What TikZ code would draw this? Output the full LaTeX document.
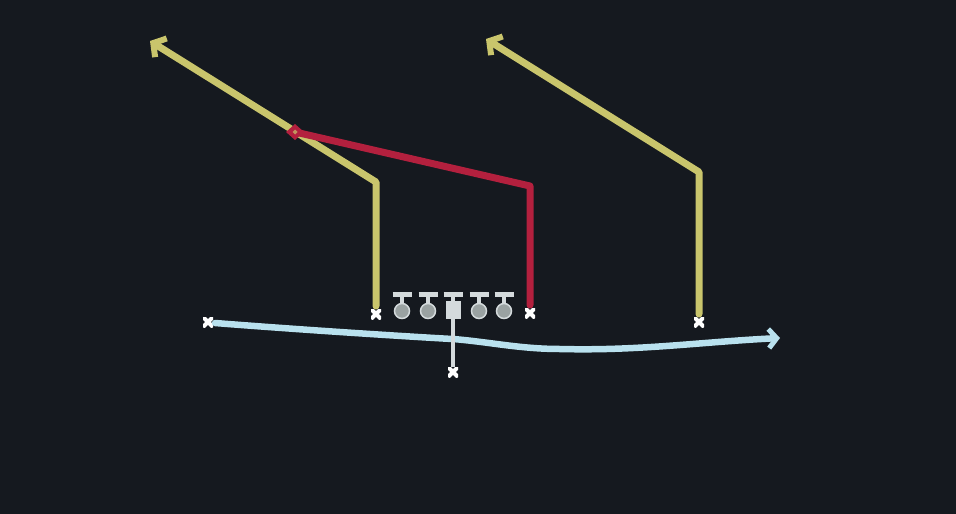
\documentclass[tikz,border=0pt]{standalone}
\usetikzlibrary{arrows.meta}
\definecolor{bg}{HTML}{15191F}
\definecolor{yel}{HTML}{C9C56C}
\definecolor{redr}{HTML}{B3203E}
\definecolor{lblue}{HTML}{B9E1EE}
\definecolor{plr}{HTML}{D4DADC}
\definecolor{plrgray}{HTML}{9AA2A2}
\tikzset{
  route/.style={line width=7pt, line join=round, line cap=round},
  yroute/.style={route, draw=yel, -{Straight Barb[length=9pt,width=22pt,line width=6pt]}},
  rroute/.style={route, draw=redr},
  broute/.style={route, line width=6.5pt, draw=lblue, -{Straight Barb[length=8pt,width=19pt,line width=5pt]}},
  xmark/.style={inner sep=0pt, minimum size=10pt, path picture={
    \draw[white, line width=4pt] (path picture bounding box.south west) -- (path picture bounding box.north east)
      (path picture bounding box.north west) -- (path picture bounding box.south east);}},
  lineman/.style={circle, fill=plrgray, draw=plr, line width=1.5pt, minimum size=15pt, inner sep=0pt},
  center/.style={rectangle, fill=plr, minimum width=15pt, minimum height=18pt, inner sep=0pt},
}
\begin{document}
\begin{tikzpicture}[x=1pt,y=-1pt]
\fill[bg] (0,0) rectangle (956,514);
\useasboundingbox (0,0) rectangle (956,514);
% route corner coordinates
\coordinate (y1c) at (376,182);
\coordinate (y1e) at (150,41);
\coordinate (y2c) at (699,172);
\coordinate (y2e) at (486,39);
\coordinate (rc) at (530,186);
\coordinate (re) at (295,132);
\coordinate (bm1) at (453,339);
\coordinate (bm2) at (560,349);
\coordinate (be) at (780,338);
% players
\node[xmark] (wl) at (376,314) {};
\node[xmark] (te) at (530,313) {};
\node[xmark] (wr) at (699,322) {};
\node[xmark] (mo) at (208,322) {};
\node[xmark] (qb) at (453,372) {};
% routes
\draw[yroute] (wl.center) ++(0,-8) -- (y1c) -- (y1e);
\draw[yroute] (wr.center) ++(0,-8) -- (y2c) -- (y2e);
\draw[rroute] (te.center) ++(0,-8) -- (rc) -- (re);
\fill[redr] (re) ++(-9,0) -- ++(9,-8) -- ++(9,8) -- ++(-9,8) -- cycle;
\fill[yel!70!redr] (re) ++(-2.5,0) -- ++(2.5,-2.5) -- ++(2.5,2.5) -- ++(-2.5,2.5) -- cycle;
\draw[broute] (mo.center) ++(7,1) .. controls (330,332) and (450,339) .. (bm1) .. controls (490,342) and (520,349) .. (bm2) .. controls (640,351) and (700,342) .. (be);
% center and back stem
\draw[plr, line width=4pt] (453,318) -- (qb);
% linemen
\foreach \i/\x in {1/402,2/428,4/479,5/504}{
  \node[lineman] (l\i) at (\x,311) {};
  \draw[plr, line width=3.5pt] (\x,295) -- (l\i.north);
  \draw[plr, line width=5pt] (\x-9.5,294) -- (\x+9.5,294);
}
\node[center] (c) at (453,310) {};
\draw[plr, line width=3.5pt] (453,295) -- (c.north);
\draw[plr, line width=5pt] (443.5,294) -- (462.5,294);
\end{tikzpicture}
\end{document}
